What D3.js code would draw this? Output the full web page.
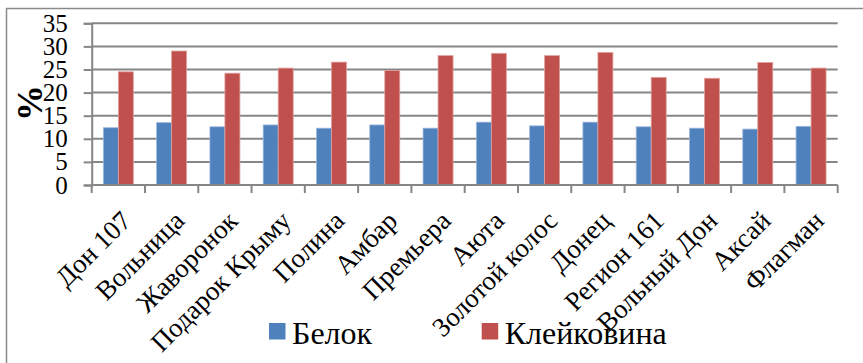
<!DOCTYPE html>
<html>
<head>
<meta charset="utf-8">
<script src="https://cdn.jsdelivr.net/npm/d3@7"></script>
</head>
<body style="margin:0">
<svg id="chart" width="863" height="363" style="display:block"></svg>
<script>
// Wheat varieties and their protein / gluten content, %
const categories = ["Дон 107", "Вольница", "Жаворонок", "Подарок Крыму", "Полина", "Амбар",
  "Премьера", "Аюта", "Золотой колос", "Донец", "Регион 161", "Вольный Дон", "Аксай", "Флагман"];
const seriesNames = ["Белок", "Клейковина"];
const protein = [12.4, 13.5, 12.6, 13.0, 12.3, 13.0, 12.3, 13.6, 12.8, 13.6, 12.6, 12.3, 12.1, 12.7];
const gluten  = [24.5, 29.0, 24.2, 25.3, 26.6, 24.8, 28.0, 28.5, 28.0, 28.7, 23.3, 23.1, 26.5, 25.3];
const yTicks = [0, 5, 10, 15, 20, 25, 30, 35];
const colors = ["#4F81BD", "#C0504D"];
const strokes = ["#9DB8DC", "#E0A09E"];

// serif text helper
function serif(sel, size, weight) {
  return sel.attr("font-family", "Liberation Serif, Times New Roman, serif")
    .style("font-family", "'Liberation Serif', 'Times New Roman', serif")
    .style("font-size", size + "px")
    .style("font-weight", weight || "normal");
}

const svg = d3.select("#chart");

// outer frame (top and left edges visible)
svg.append("line").attr("x1", 6).attr("x2", 863).attr("y1", 8.5).attr("y2", 8.5)
  .attr("stroke", "#8a8a8a").attr("stroke-width", 1.5);
svg.append("line").attr("x1", 6.5).attr("x2", 6.5).attr("y1", 8).attr("y2", 363)
  .attr("stroke", "#8a8a8a").attr("stroke-width", 1.5);

const plot = { left: 91.7, right: 837.7, top: 23.3, bottom: 185 };

const x = d3.scaleBand().domain(categories).range([plot.left, plot.right]).paddingInner(0).paddingOuter(0);
const y = d3.scaleLinear().domain([0, 35]).range([plot.bottom, plot.top]);
const inner = d3.scaleBand().domain(seriesNames).range([0, 30]);
const barOffset = (x.bandwidth() - 30) / 2;

// horizontal gridlines
svg.append("g").selectAll("line").data(yTicks.filter(d => d > 0)).join("line")
  .attr("x1", plot.left).attr("x2", plot.right)
  .attr("y1", d => y(d)).attr("y2", d => y(d))
  .attr("stroke", "#868686").attr("stroke-width", 2);

// bars
const rows = categories.map((c, i) => ({ c, vals: [protein[i], gluten[i]] }));
const g = svg.append("g");
rows.forEach(r => {
  r.vals.forEach((v, k) => {
    g.append("rect")
      .attr("x", x(r.c) + barOffset + inner(seriesNames[k]))
      .attr("y", y(v))
      .attr("width", inner.bandwidth())
      .attr("height", y(0) - y(v))
      .attr("fill", colors[k])
      .attr("stroke", strokes[k]).attr("stroke-width", 0.8);
  });
});

// y axis
const yAxis = d3.axisLeft(y).tickValues(yTicks).tickSize(8).tickPadding(16);
const ya = svg.append("g").attr("transform", `translate(${plot.left},0)`).call(yAxis);
ya.select(".domain").attr("stroke", "#868686").attr("stroke-width", 2);
ya.selectAll(".tick line").attr("stroke", "#868686").attr("stroke-width", 2);
serif(ya, 25);
serif(ya.selectAll(".tick text"), 25).attr("fill", "#000");

// x axis with ticks at band edges
const xa = svg.append("g").attr("transform", `translate(0,${plot.bottom})`);
xa.append("line").attr("x1", plot.left).attr("x2", plot.right).attr("y1", 0).attr("y2", 0)
  .attr("stroke", "#868686").attr("stroke-width", 2);
const edges = categories.map(c => x(c)).concat([plot.right]);
xa.selectAll("line.tk").data(edges).join("line").attr("class", "tk")
  .attr("x1", d => d).attr("x2", d => d).attr("y1", 0).attr("y2", 8)
  .attr("stroke", "#868686").attr("stroke-width", 2);
serif(xa.selectAll("text").data(categories).join("text"), 27)
  .attr("transform", d => `translate(${x(d) + x.bandwidth() / 2 + 1},${24}) rotate(-45)`)
  .attr("text-anchor", "end")
  .attr("dy", "0.7em")
  .text(d => d);

// y axis title
serif(svg.append("text"), 36, "bold")
  .attr("transform", "translate(42,103) rotate(-90)")
  .attr("text-anchor", "middle")
  .text("%");

// legend
const legendX = [269, 481.7];
seriesNames.forEach((s, k) => {
  svg.append("rect").attr("x", legendX[k]).attr("y", 323).attr("width", 16.5).attr("height", 16.5)
    .attr("fill", colors[k]);
  serif(svg.append("text"), 32).attr("x", legendX[k] + 23).attr("y", 343.5).text(s);
});
</script>
</body>
</html>
